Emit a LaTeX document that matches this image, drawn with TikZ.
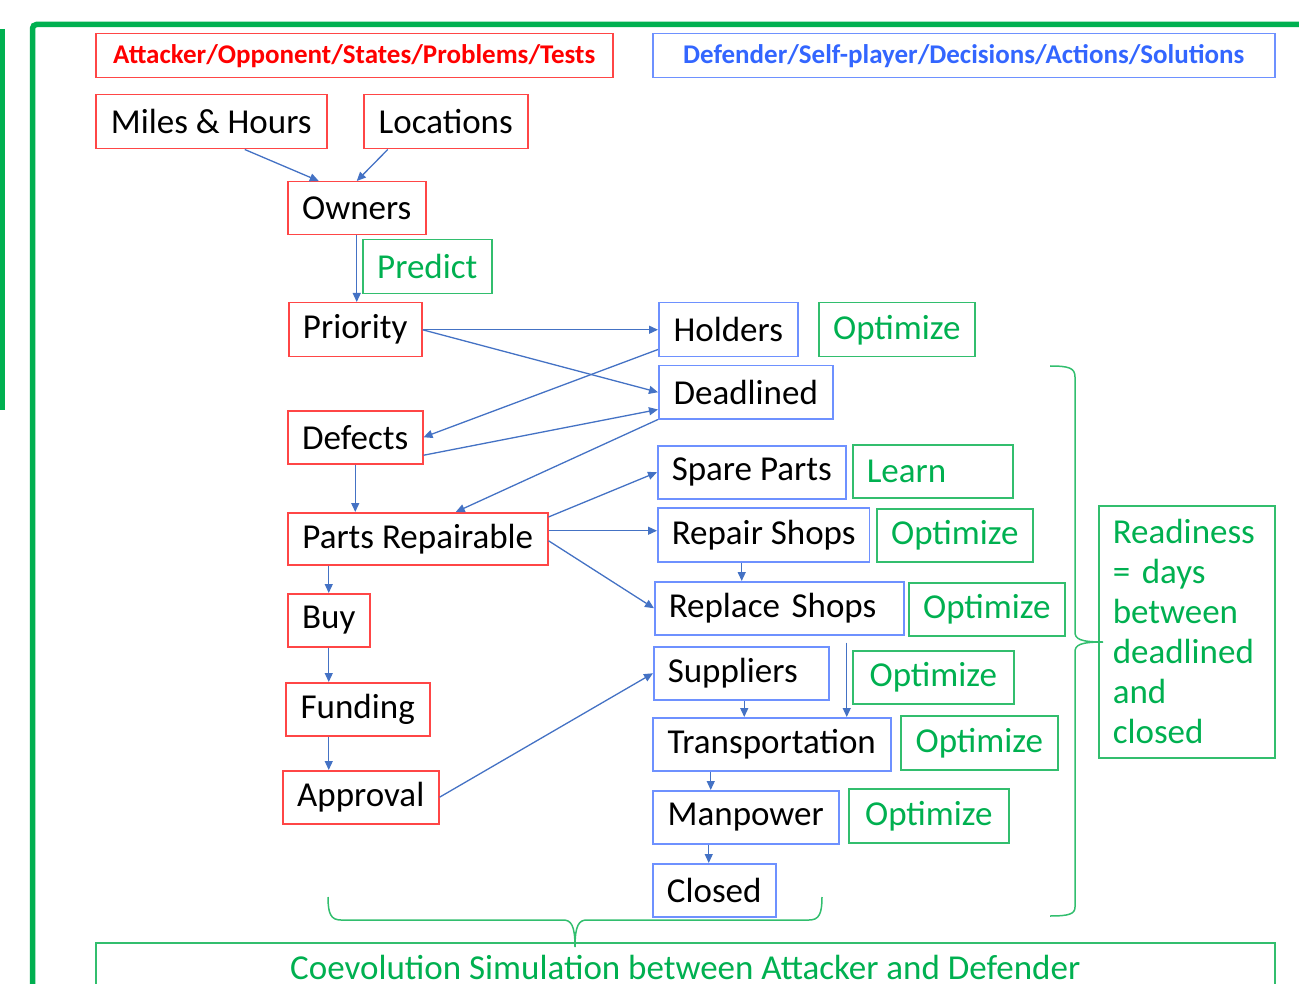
\documentclass[tikz,border=0pt]{standalone}
\usepackage{fontspec}
\setmainfont{Carlito}
\usetikzlibrary{arrows.meta,positioning}
\definecolor{attackred}{RGB}{255,0,0}
\definecolor{boxred}{RGB}{255,70,70}
\definecolor{boxblue}{RGB}{110,145,255}
\definecolor{defblue}{RGB}{51,102,255}
\definecolor{linkblue}{RGB}{68,114,196}
\definecolor{officegreen}{RGB}{0,176,80}
\definecolor{boxgreen}{RGB}{50,190,110}
\tikzset{
  anybox/.style={anchor=north west, minimum height=54, inner xsep=14pt, inner ysep=0pt,
    line width=1.5pt, font=\fontsize{35}{40}\selectfont},
  statebox/.style={anybox, draw=boxred},
  actionbox/.style={anybox, draw=boxblue},
  tunebox/.style={anybox, draw=boxgreen, text=officegreen},
  header/.style={anybox, minimum height=44, font=\fontsize{27}{32}\selectfont\bfseries},
  link/.style={-{Triangle[length=9pt,width=8pt]}, draw=linkblue, line width=1.3pt},
  frame/.style={draw=officegreen, line width=5.5pt},
  bracepath/.style={draw=boxgreen, line width=1.5pt},
}

\begin{document}
\begin{tikzpicture}[x=1pt, y=-1pt]
  \useasboundingbox (0,0) rectangle (1299,984);

  % Frame
  \draw[frame, rounded corners=4pt] (32.5,1000) -- (32.5,24.5) -- (1310,24.5);
  \draw[frame] (2.5,29) -- (2.5,410);

  % Headers
  \node[header, draw=boxred, text=attackred, minimum width=517] (attacker) at (95,33)
    {Attacker/Opponent/States/Problems/Tests};
  \node[header, draw=boxblue, text=defblue, minimum width=622] (defender) at (652,33)
    {Defender/Self-player/Decisions/Actions/Solutions};

  % Attacker side
  \node[statebox, minimum width=231] (miles) at (95,94) {Miles \& Hours};
  \node[statebox, minimum width=164] (locs) at (363,94) {Locations};
  \node[statebox, minimum width=138, minimum height=53] (owners) at (287,181) {Owners};
  \node[statebox, minimum width=133] (priority) at (288,302) {Priority};
  \node[statebox, minimum width=135, minimum height=53] (defects) at (287,410) {Defects};
  \node[statebox, minimum width=260, minimum height=52] (parts) at (287,512) {Parts Repairable};
  \node[statebox, minimum width=82, minimum height=53] (buy) at (287,593) {Buy};
  \node[statebox, minimum width=144, minimum height=53] (funding) at (285,682) {Funding};
  \node[statebox, minimum width=156, minimum height=53] (approval) at (282,770) {Approval};

  % Defender side
  \node[actionbox, minimum width=139] (holders) at (658,302) {Holders};
  \node[actionbox, minimum width=174, minimum height=53] (deadlined) at (658,365) {Deadlined};
  \node[actionbox, minimum width=188, minimum height=53] (spare) at (657,445) {Spare Parts};
  \node[actionbox, minimum width=211] (repair) at (657,507) {Repair Shops};
  \node[actionbox, text width=221, align=left, minimum height=53] (replace) at (654,581) {Replace Shops};
  \node[actionbox, text width=147, align=left, minimum height=53] (suppliers) at (653,646) {Suppliers};
  \node[actionbox, minimum width=238, minimum height=53] (transport) at (652,717) {Transportation};
  \node[actionbox, minimum width=186, minimum height=53] (manpower) at (652,790) {Manpower};
  \node[actionbox, minimum width=123, minimum height=53] (closed) at (652,863) {Closed};

  % Predict / Learn / Optimize
  \node[tunebox, minimum width=129] (predict) at (362,239) {Predict};
  \node[tunebox, minimum width=156] (opt1) at (818,302) {Optimize};
  \node[tunebox, text width=132, align=left, minimum height=53] (learn) at (852,444) {Learn};
  \node[tunebox, minimum width=156, minimum height=53] (opt2) at (876,508) {Optimize};
  \node[tunebox, minimum width=156, minimum height=53] (opt3) at (908,582) {Optimize};
  \node[tunebox, minimum width=161, minimum height=53] (opt4) at (852,650) {Optimize};
  \node[tunebox, minimum width=157] (opt5) at (900,715) {Optimize};
  \node[tunebox, minimum width=160] (opt6) at (848,788) {Optimize};
  \node[tunebox, text width=148, align=left, minimum height=252] (readiness) at (1098,505)
    {Readiness\\= days\\between\\deadlined\\and\\closed};
  \node[tunebox, minimum width=1179, minimum height=50] (coevo) at (95,942)
    {Coevolution Simulation between Attacker and Defender};

  % Links
  \draw[link] ([xshift=33.5pt]miles.south) -- ([xshift=-38pt]owners.north);
  \draw[link] ([xshift=-58pt]locs.south) -- (owners.north);
  \draw[link] (owners.south) -- (owners.south |- priority.north);
  \draw[link] (priority.east) -- (holders.west);
  \draw[link] (priority.east) -- (deadlined.west);
  \draw[link] ([yshift=8pt]holders.south west) -- (defects.east);
  \draw[link] ([yshift=-18pt]defects.east) -- ([yshift=10pt]deadlined.south west);
  \draw[link] (deadlined.south west) -- ([xshift=38pt]parts.north);
  \draw[link] (defects.south) -- (defects.south |- parts.north);
  \draw[link] ([yshift=-5pt]parts.north east) -- (spare.west);
  \coordinate (repairin) at ([yshift=4pt]repair.west);
  \draw[link] (parts.east |- repairin) -- (repairin);
  \draw[link] ([yshift=-2pt]parts.east) -- (replace.west);
  \draw[link] (buy.north |- parts.south) -- (buy.north);
  \coordinate (repairout) at ([xshift=-22pt]repair.south);
  \draw[link] (repairout) -- (repairout |- replace.north);
  \draw[link] (buy.south) -- (buy.south |- funding.north);
  \draw[link] (funding.south -| buy.south) -- (buy.south |- approval.north);
  \draw[link] (approval.east) -- (suppliers.west);
  \coordinate (replaceout) at ([xshift=67.5pt,yshift=-7pt]replace.south);
  \draw[link] (replaceout) -- (replaceout |- transport.north);
  \coordinate (suppout) at ([xshift=3pt]suppliers.south);
  \draw[link] (suppout) -- (suppout |- transport.north);
  \coordinate (transout) at ([xshift=-61pt]transport.south);
  \draw[link] (transout) -- (transout |- manpower.north);
  \coordinate (manout) at ([xshift=-37pt]manpower.south);
  \draw[link] (manout) -- (manout |- closed.north);

  % Braces
  \draw[bracepath] (1050,366) .. controls (1069,366) and (1075,368) .. (1075,377)
    -- (1075,632) .. controls (1075,639) and (1080,642) .. (1103,642)
    .. controls (1080,642) and (1075,645) .. (1075,652)
    -- (1075,907) .. controls (1075,914) and (1069,916) .. (1050,916);
  \draw[bracepath] (328,897) .. controls (328,914) and (331,920) .. (341,920)
    -- (563,920) .. controls (571,920) and (575,925) .. (575,947)
    .. controls (575,925) and (579,920) .. (587,920)
    -- (809,920) .. controls (819,920) and (822,914) .. (822,897);
\end{tikzpicture}
\end{document}
